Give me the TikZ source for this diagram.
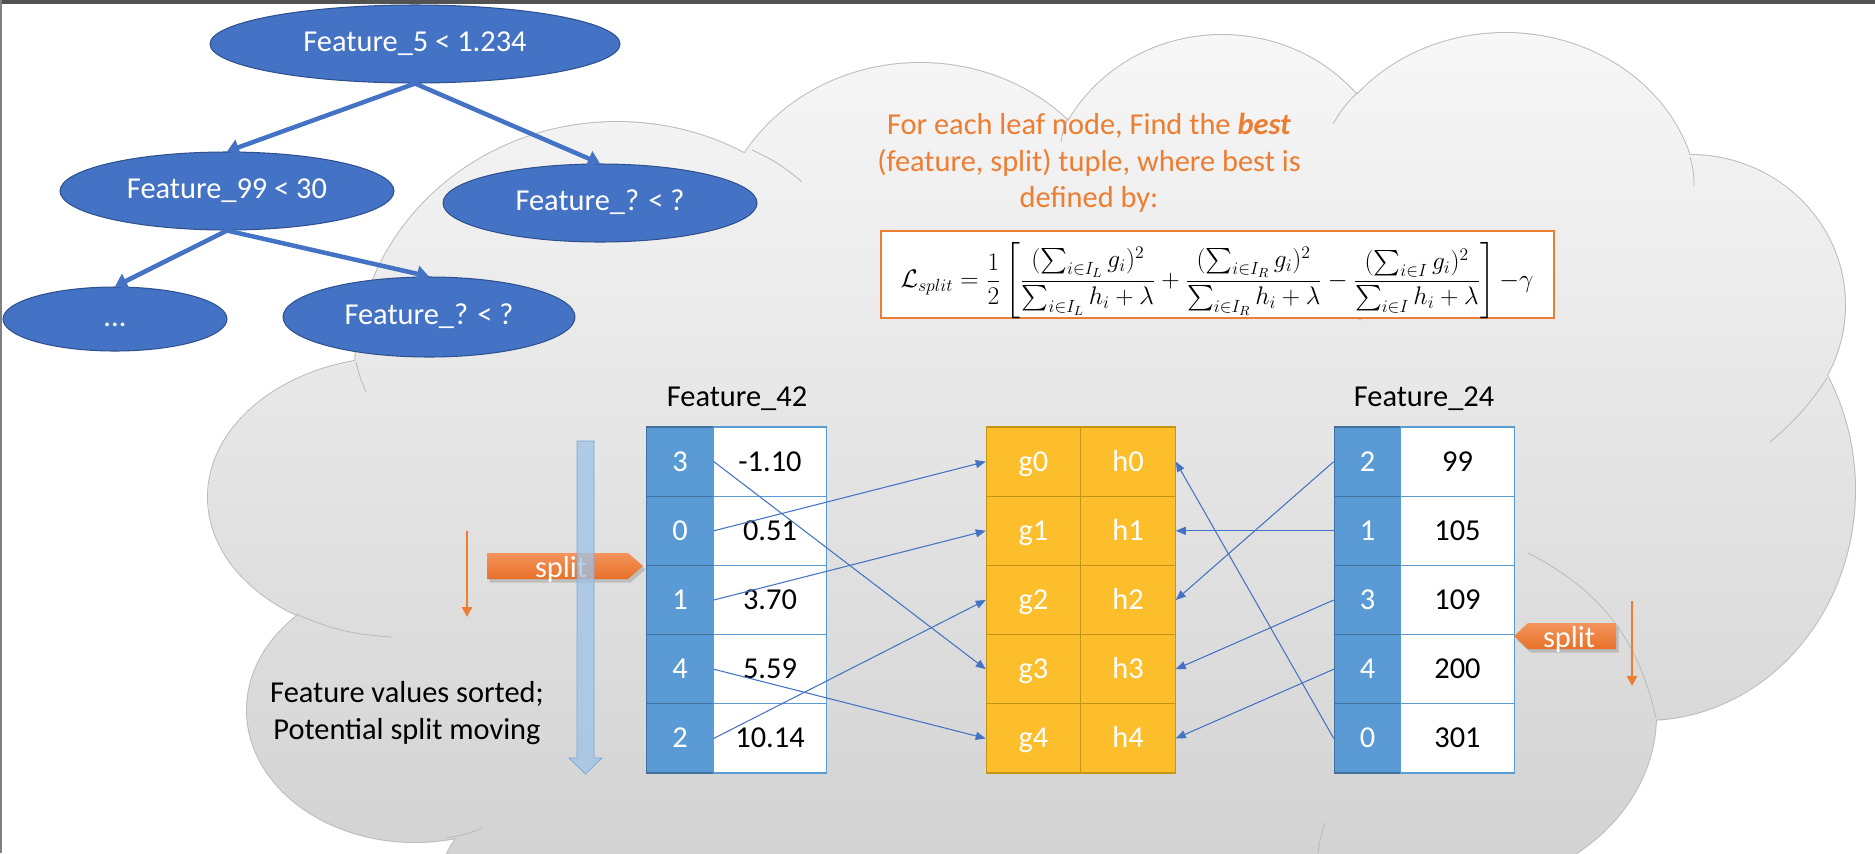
\documentclass[tikz,border=0pt]{standalone}
\usepackage[no-math]{fontspec}
\setmainfont{Carlito}
\usepackage{amsmath}
\usepackage{graphicx}
\usetikzlibrary{arrows.meta,shapes.geometric,shadows}

\definecolor{treeblue}{RGB}{68,114,196}
\definecolor{treeline}{RGB}{47,82,143}
\definecolor{idxblue}{RGB}{91,155,213}
\definecolor{idxline}{RGB}{65,113,156}
\definecolor{gold}{RGB}{252,190,42}
\definecolor{goldline}{RGB}{196,148,20}
\definecolor{accent}{RGB}{237,125,49}
\definecolor{splittop}{RGB}{244,148,92}
\definecolor{splitbot}{RGB}{232,112,40}
\definecolor{sortblue}{RGB}{157,195,230}
\definecolor{sortline}{RGB}{120,168,215}
\definecolor{cloudtop}{RGB}{247,247,247}
\definecolor{cloudbot}{RGB}{198,198,198}
\definecolor{cloudedge}{RGB}{188,188,188}

% bumps of the cloud: centre x / centre y / x radius / y radius
\newcommand\cloudbumps{617/370/5.24cm/4.96cm, 920/250/4.1cm/3.74cm, 1222/200/3.5cm/3.3cm,
  1505/205/3.86cm/3.44cm, 1690/305/3.1cm/3.0cm, 1645/490/4.2cm/4.6cm, 1450/715/4.12cm/3.5cm,
  400/497/3.84cm/2.8cm, 415/710/3.36cm/2.64cm, 830/920/8cm/4.6cm, 1150/900/8cm/4cm,
  1000/560/12cm/6cm}

\begin{document}
\begin{tikzpicture}[x=0.02cm, y=-0.02cm,
    every node/.style={font=\fontsize{17.3}{20.8}\selectfont},
    treenode/.style={ellipse, draw=treeline, line width=0.6pt, fill=treeblue, text=white, inner sep=0pt,
      minimum height=1.56cm, text height=0.395cm, text depth=0.09cm},
    treearrow/.style={draw=treeblue, line width=0.09cm, -{Triangle[length=0.24cm,width=0.32cm]}},
    cell/.style={rectangle, inner sep=0pt, line width=0.6pt, minimum height=1.384cm, text height=0.383cm, text depth=0pt},
    idxcell/.style={cell, draw=idxline, fill=idxblue, text=white, minimum width=1.33cm},
    valcell/.style={cell, draw=idxblue, fill=white, minimum width=2.27cm},
    ghcell/.style={cell, draw=goldline, fill=gold, text=white, minimum width=1.89cm},
    link/.style={draw=treeblue, line width=0.6pt, -{Triangle[length=0.2cm,width=0.16cm]}},
    movearrow/.style={draw=accent, line width=0.045cm, -{Triangle[length=0.2cm,width=0.2cm]}},
    splitbanner/.style={top color=splittop, bottom color=splitbot,
      drop shadow={opacity=0.35, shadow xshift=0.05cm, shadow yshift=-0.07cm}},
    cloudhint/.style={draw=cloudedge, line width=0.5pt}]
    \useasboundingbox (0,0) rectangle (1875,853);
    \clip (0,0) rectangle (1875,853);
    \fill[white] (0,0) rectangle (1875,853);

    % cloud
    \draw[draw=cloudedge, line width=0.04cm] \foreach \cx/\cy/\rx/\ry in \cloudbumps {(\cx,\cy) ellipse [x radius=\rx, y radius=\ry]};
    \shade[top color=cloudtop, bottom color=cloudbot] \foreach \cx/\cy/\rx/\ry in \cloudbumps {(\cx,\cy) ellipse [x radius=\rx, y radius=\ry]};
    \draw[cloudhint] (752,150) to[bend left=8] (802,182);
    \draw[cloudhint] (1068,118) to[bend right=8] (1061,142);
    \draw[cloudhint] (1358,92) to[bend right=8] (1333,124);
    \draw[cloudhint] (1690,157) to[bend left=8] (1694,186);
    \draw[cloudhint] (1827,378) to[bend left=8] (1770,442);
    \draw[cloudhint] (1656,718) to[bend right=25] (1528,553);
    \draw[cloudhint] (356,362) to[bend right=5] (366,392);
    \draw[cloudhint] (296,614) to[bend right=10] (392,637);
    \draw[cloudhint] (445,838) to[bend right=8] (482,828);
    \draw[cloudhint] (1325,823) to[bend right=6] (1318,853);

    % decision tree
    \node[treenode, minimum width=8.2cm] (root) at (415,44) {Feature\_5 < 1.234};
    \node[treenode, minimum width=6.68cm] (f99) at (227,191) {Feature\_99 < 30};
    \node[treenode, minimum width=6.28cm] (fq1) at (600,203) {Feature\_? < ?};
    \node[treenode, minimum width=4.48cm, minimum height=1.28cm] (dots) at (115,319) {...};
    \node[treenode, minimum width=5.84cm, minimum height=1.6cm] (fq2) at (429,317) {Feature\_? < ?};
    \draw[treearrow] (root.south) -- (f99.north);
    \draw[treearrow] (root.south) -- (fq1.north);
    \draw[treearrow] (f99.south) -- (dots.north);
    \draw[treearrow] (f99.south) -- (fq2.north);

    % gain formula
    \node[text=accent, align=center, inner sep=0pt] (task) at (1089,163)
      {For each leaf node, Find the \textbf{\textit{best}}\\(feature, split) tuple, where best is\\defined by:};
    \node[draw=accent, fill=white, line width=0.03cm, minimum width=13.46cm, minimum height=1.74cm, inner sep=0pt] (lossbox) at (1217.5,274.5) {};
    \node[inner sep=0pt] (loss) at (1217,281) {\resizebox{12.66cm}{!}{$\displaystyle
      \mathcal{L}_{split}=\frac{1}{2}\left[\frac{(\sum_{i\in I_L}g_i)^2}{\sum_{i\in I_L}h_i+\lambda}
      +\frac{(\sum_{i\in I_R}g_i)^2}{\sum_{i\in I_R}h_i+\lambda}
      -\frac{(\sum_{i\in I}g_i)^2}{\sum_{i\in I}h_i+\lambda}\right]{-}\gamma$}};

    % sorted feature columns and gradient statistics
    \node[anchor=base] (lab42) at (737,406) {Feature\_42};
    \node[anchor=base] (lab24) at (1424,406) {Feature\_24};
    \foreach \r in {0,...,4} {
        \node[ghcell] (g\r) at (1033.5,461.6+69.2*\r) {g\r};
        \node[ghcell] (h\r) at (1128,461.6+69.2*\r) {h\r};
    }
    \foreach \r/\i/\v in {0/3/-1.10, 1/0/0.51, 2/1/3.70, 3/4/5.59, 4/2/10.14} {
        \node[idxcell] (ka\r) at (680,461.6+69.2*\r) {\i};
        \node[valcell] (va\r) at (770,461.6+69.2*\r) {\v};
    }
    \foreach \r/\i/\v in {0/2/99, 1/1/105, 2/3/109, 3/4/200, 4/0/301} {
        \node[idxcell] (kb\r) at (1367.5,461.6+69.2*\r) {\i};
        \node[valcell] (vb\r) at (1457.5,461.6+69.2*\r) {\v};
    }
    \foreach \r/\i in {0/3, 1/0, 2/1, 3/4, 4/2} {
        \draw[link] (ka\r.east) -- (g\i.west);
    }
    \foreach \r/\i in {0/2, 1/1, 2/3, 3/4, 4/0} {
        \draw[link] (kb\r.west) -- (h\i.east);
    }

    % split markers
    \path[splitbanner] (487,553) -- (628,553) -- (643,566) -- (628,579) -- (487,579) -- cycle;
    \node[text=white] (splitL) at (561,569) {split};
    \path[splitbanner] (1514,636) -- (1528,623) -- (1616,623) -- (1616,649) -- (1528,649) -- cycle;
    \node[text=white] (splitR) at (1569,639) {split};
    \draw[draw=sortline, fill=sortblue, fill opacity=0.75] (577,441) -- (594,441) -- (594,758) -- (602,758)
      -- (585.5,774) -- (569,758) -- (577,758) -- cycle;
    \coordinate (mvL1) at (467,531);
    \coordinate (mvL2) at (467,617);
    \coordinate (mvR1) at (1632,601);
    \coordinate (mvR2) at (1632,686);
    \draw[movearrow] (mvL1) -- (mvL2);
    \draw[movearrow] (mvR1) -- (mvR2);
    \node[align=center, inner sep=0pt] (sortnote) at (407,713) {Feature values sorted;\\Potential split moving};

    % frame of the screenshot
    \fill[black!68] (0,0) rectangle (1875,3.5);
    \fill[black!50] (0,0) rectangle (2.5,853);
\end{tikzpicture}
\end{document}
